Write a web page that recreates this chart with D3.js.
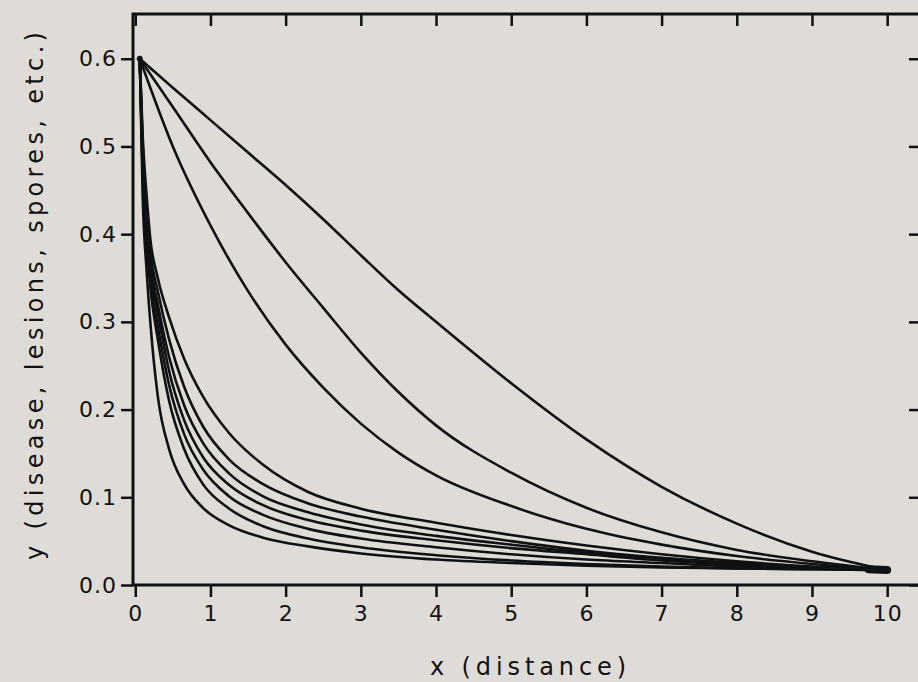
<!DOCTYPE html>
<html>
<head>
<meta charset="utf-8">
<script src="https://cdn.jsdelivr.net/npm/d3@7"></script>
<style>
  html, body { margin: 0; padding: 0; background: #dfdbd6; }
  svg { display: block; }
  text { font-family: "DejaVu Sans", sans-serif; fill: #111; }
</style>
</head>
<body>
<div id="chart"></div>
<script>
// gradient curves, all start at (0.06, 0.6) and end at (10, 0.017)
const upperX = [0.06, 0.5, 1, 1.5, 2, 2.5, 3, 3.5, 4, 5, 6, 7, 8, 9, 10];
const curveA = [0.6, 0.567, 0.53, 0.493, 0.456, 0.417, 0.376, 0.336, 0.3, 0.23, 0.166, 0.112, 0.07, 0.038, 0.017];
const curveB = [0.6, 0.545, 0.482, 0.424, 0.368, 0.316, 0.265, 0.22, 0.182, 0.128, 0.088, 0.06, 0.04, 0.027, 0.017];
const curveC = [0.6, 0.5, 0.41, 0.335, 0.274, 0.225, 0.184, 0.151, 0.125, 0.09, 0.064, 0.046, 0.033, 0.024, 0.017];

const lowerX = [0.06, 0.1, 0.15, 0.2, 0.3, 0.45, 0.65, 0.9, 1.25, 1.7, 2.3, 3, 4, 5, 6, 7, 8, 9, 10];
const curveL1 = [0.6, 0.44, 0.36, 0.30, 0.215, 0.155, 0.115, 0.088, 0.068, 0.054, 0.044, 0.036, 0.029, 0.025, 0.022, 0.020, 0.019, 0.018, 0.017];
const curveL2 = [0.6, 0.46, 0.39, 0.34, 0.28, 0.21, 0.155, 0.115, 0.087, 0.067, 0.053, 0.043, 0.034, 0.028, 0.024, 0.021, 0.019, 0.018, 0.017];
const curveL3 = [0.6, 0.47, 0.40, 0.35, 0.295, 0.228, 0.172, 0.132, 0.101, 0.08, 0.064, 0.053, 0.043, 0.035, 0.029, 0.025, 0.021, 0.019, 0.017];
const curveL4 = [0.6, 0.48, 0.41, 0.36, 0.31, 0.244, 0.188, 0.146, 0.114, 0.091, 0.074, 0.062, 0.051, 0.042, 0.035, 0.028, 0.023, 0.02, 0.017];
const curveL5 = [0.6, 0.49, 0.42, 0.37, 0.32, 0.26, 0.205, 0.162, 0.127, 0.101, 0.083, 0.069, 0.056, 0.046, 0.037, 0.03, 0.025, 0.02, 0.017];
const curveL6 = [0.6, 0.50, 0.43, 0.38, 0.335, 0.28, 0.226, 0.181, 0.143, 0.115, 0.093, 0.078, 0.063, 0.05, 0.039, 0.031, 0.025, 0.02, 0.017];
const curveL7 = [0.6, 0.51, 0.445, 0.395, 0.35, 0.305, 0.258, 0.215, 0.173, 0.137, 0.106, 0.087, 0.071, 0.057, 0.045, 0.035, 0.027, 0.021, 0.017];

const xTicks = [0, 1, 2, 3, 4, 5, 6, 7, 8, 9, 10];
const yTicks = [0, 0.1, 0.2, 0.3, 0.4, 0.5, 0.6];
const xTitle = "x (distance)";
const yTitle = "y (disease, lesions, spores, etc.)";

const W = 918, H = 682;
const mLeft = 133, mRight = 921, mTop = 14, mBottom = 585;

const svg = d3.select("#chart").append("svg").attr("width", W).attr("height", H);

const x = d3.scaleLinear().domain([-0.03, 10.45]).range([mLeft, mRight]);
const y = d3.scaleLinear().domain([0, 0.651]).range([mBottom, mTop]);

const curves = [
  [upperX, curveA], [upperX, curveB], [upperX, curveC],
  [lowerX, curveL1], [lowerX, curveL2], [lowerX, curveL3], [lowerX, curveL4],
  [lowerX, curveL5], [lowerX, curveL6], [lowerX, curveL7]
];

const line = d3.line()
  .x(d => x(d[0]))
  .y(d => y(d[1]))
  .curve(d3.curveMonotoneX);

// curves
svg.append("g")
  .selectAll("path")
  .data(curves)
  .join("path")
  .attr("d", c => line(c[0].map((v, i) => [v, c[1][i]])))
  .attr("fill", "none")
  .attr("stroke", "#111")
  .attr("stroke-width", 2.6)
  .attr("stroke-linejoin", "round");

// start / end blobs
svg.append("circle").attr("cx", x(upperX[0])).attr("cy", y(curveA[0])).attr("r", 3).attr("fill", "#111");
svg.append("line")
  .attr("x1", x(9.75)).attr("x2", x(10)).attr("y1", y(0.018)).attr("y2", y(0.017))
  .attr("stroke", "#111").attr("stroke-width", 8).attr("stroke-linecap", "round");

// frame
svg.append("rect")
  .attr("x", mLeft).attr("y", mTop)
  .attr("width", mRight - mLeft).attr("height", mBottom - mTop)
  .attr("fill", "none").attr("stroke", "#111").attr("stroke-width", 3);

// axes
const tickLen = 12;
const xAxisB = svg.append("g").attr("transform", `translate(0,${mBottom})`)
  .call(d3.axisBottom(x).tickValues(xTicks).tickSize(tickLen).tickPadding(8).tickFormat(d3.format("d")));
const xAxisT = svg.append("g").attr("transform", `translate(0,${mTop})`)
  .call(d3.axisBottom(x).tickValues(xTicks).tickSize(tickLen).tickFormat(""));
const yAxisL = svg.append("g").attr("transform", `translate(${mLeft},0)`)
  .call(d3.axisLeft(y).tickValues(yTicks).tickSize(tickLen).tickPadding(4).tickFormat(d3.format(".1f")));
const yAxisR = svg.append("g").attr("transform", `translate(${mRight},0)`)
  .call(d3.axisLeft(y).tickValues(yTicks).tickSize(tickLen).tickFormat(""));

[xAxisB, xAxisT, yAxisL, yAxisR].forEach(g => {
  g.select(".domain").remove();
  g.selectAll(".tick line").attr("stroke", "#111").attr("stroke-width", 2.5);
  g.selectAll("text").attr("font-family", "DejaVu Sans, sans-serif").attr("font-size", 22)
    .attr("fill", "#111").style("letter-spacing", "1px");
});

// titles
svg.append("text")
  .attr("x", 528).attr("y", 675)
  .attr("text-anchor", "middle")
  .attr("font-size", 24)
  .attr("textLength", 196).attr("lengthAdjust", "spacing")
  .text(xTitle);

svg.append("text")
  .attr("transform", "translate(43,296) rotate(-90)")
  .attr("text-anchor", "middle")
  .attr("font-size", 24)
  .attr("textLength", 528).attr("lengthAdjust", "spacing")
  .text(yTitle);
</script>
</body>
</html>
